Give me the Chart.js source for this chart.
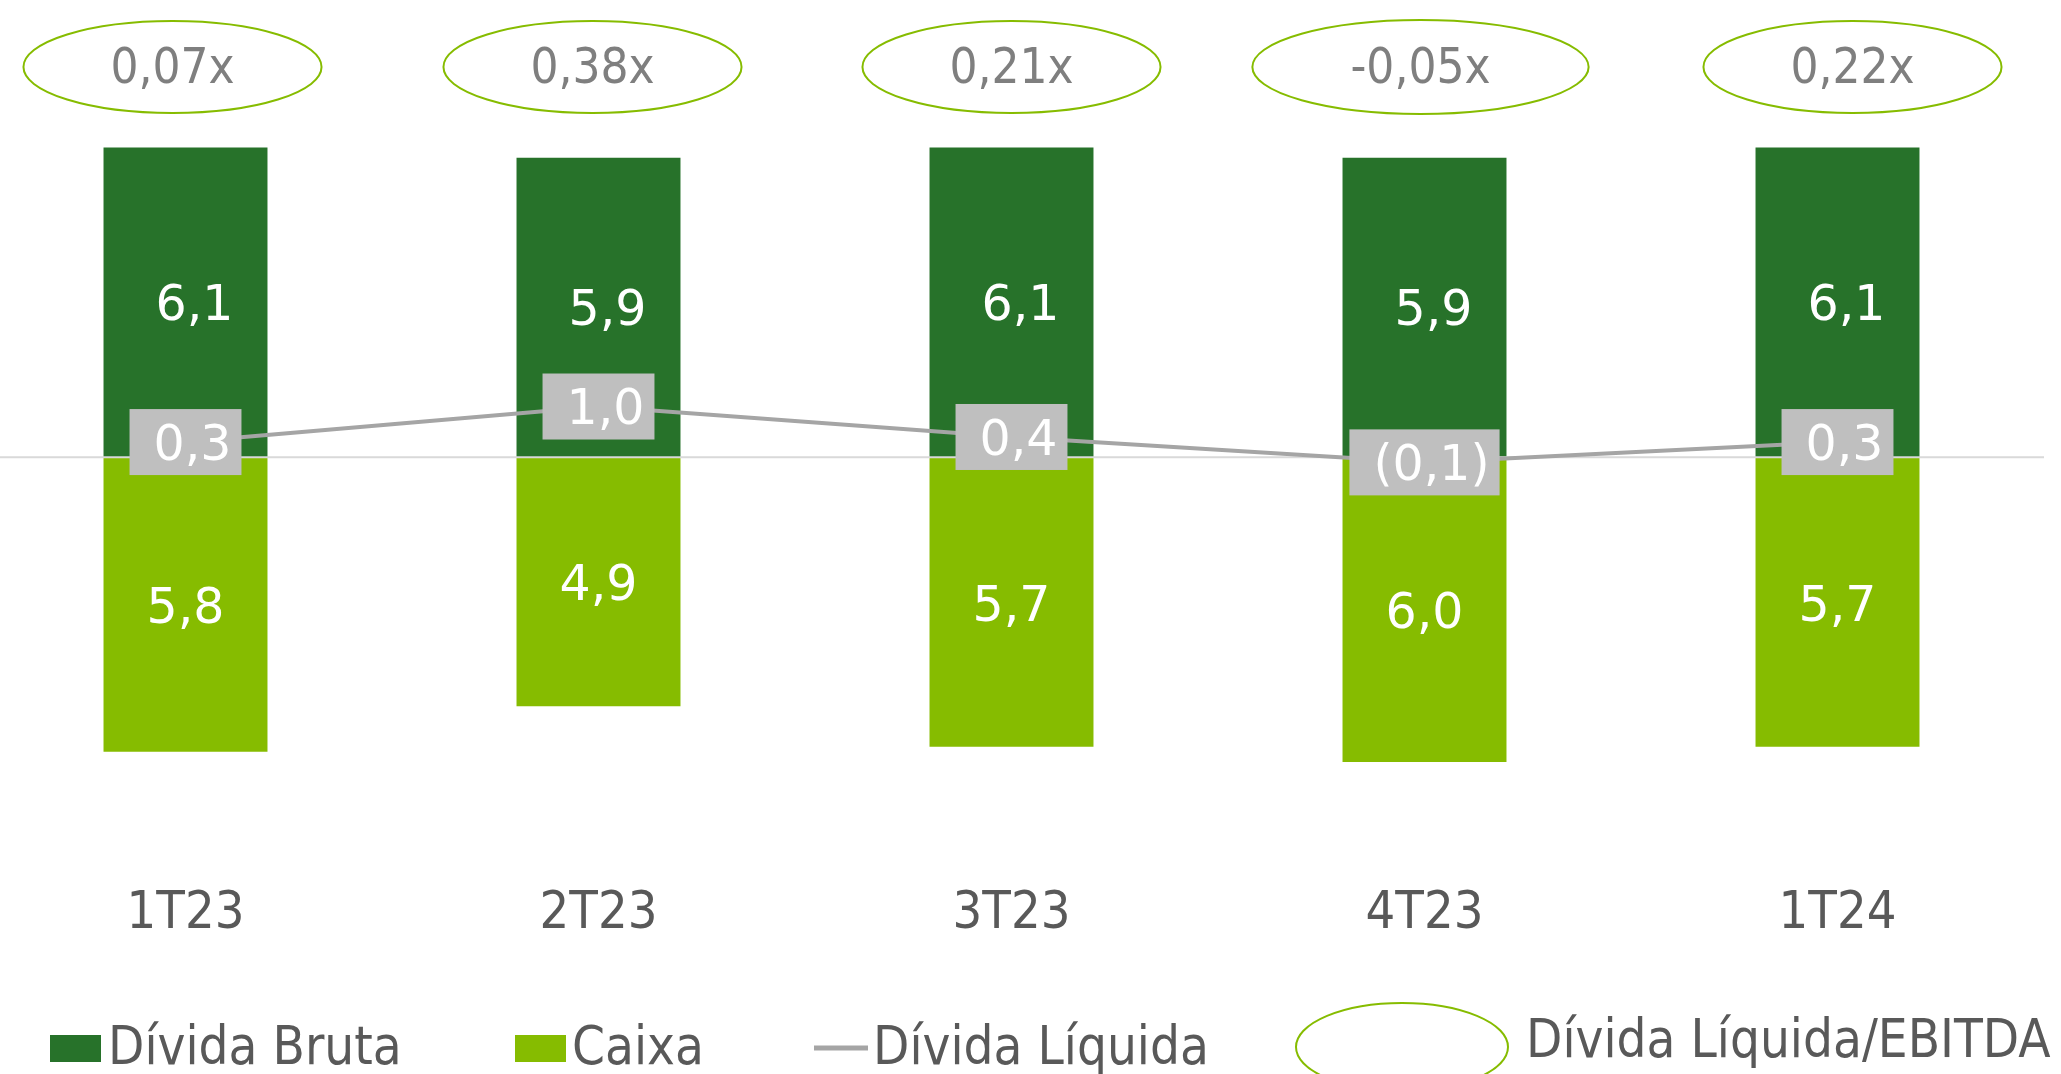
<!DOCTYPE html>
<html>
<head>
<meta charset="utf-8">
<script src="https://cdn.jsdelivr.net/npm/chart.js@4.4.1/dist/chart.umd.min.js"></script>
<style>
  html, body { margin: 0; padding: 0; background: #fff; overflow: hidden; }
  #wrap { position: absolute; left: -21px; top: 0; width: 2082px; height: 1074px; }
</style>
</head>
<body>
<div id="wrap"><canvas id="chart" width="2082" height="1074"></canvas></div>
<script>
// data (R$ bi)
var categories = ['1T23', '2T23', '3T23', '4T23', '1T24'];
var dividaBruta = [6.1, 5.9, 6.1, 5.9, 6.1];
var caixa = [5.8, 4.9, 5.7, 6.0, 5.7];
var dividaLiquida = [0.3, 1.0, 0.4, -0.1, 0.3];
var dlEbitda = [0.07, 0.38, 0.21, -0.05, 0.22];

var SHIFT = 21; // canvas sits 21px left of the page
var COND = '"DejaVu Sans Condensed", "DejaVu Sans", Verdana, sans-serif';
var NORM = '"DejaVu Sans", Verdana, sans-serif';
var DARK = '#27722a';
var LIGHT = '#86bc00';
var GRAY = '#a5a5a5';
var ELLIPSE_DX = [-13, -6, 0, -4, 15]; // the ovals are not quite centred on the bars

function fmt(v) {
  var s = Math.abs(v).toFixed(1).replace('.', ',');
  return v < 0 ? '(' + s + ')' : s;
}
function fmtX(v) {
  return v.toFixed(2).replace('.', ',') + 'x';
}

var labelsPlugin = {
  id: 'labels',
  afterDatasetDraw: function(chart, args) {
    var ctx = chart.ctx;
    // zero line goes over the bars, under the net debt line
    if (args.index === 1) {
      var y0 = chart.scales.y.getPixelForValue(0);
      ctx.save();
      ctx.strokeStyle = '#d9d9d9';
      ctx.lineWidth = 2;
      ctx.beginPath();
      ctx.moveTo(chart.chartArea.left, y0);
      ctx.lineTo(chart.chartArea.right, y0);
      ctx.stroke();
      ctx.restore();
    }
  },
  afterDatasetsDraw: function(chart) {
    var ctx = chart.ctx;
    ctx.save();
    ctx.font = '49px ' + NORM;
    ctx.textAlign = 'center';
    ctx.textBaseline = 'middle';
    ctx.fillStyle = '#ffffff';

    // bar values
    chart.getDatasetMeta(0).data.forEach(function(el, i) {
      ctx.fillText(fmt(dividaBruta[i]), el.x + 9, (el.y + el.base) / 2 + 5);
    });
    chart.getDatasetMeta(1).data.forEach(function(el, i) {
      ctx.fillText(fmt(caixa[i]), el.x, (el.y + el.base) / 2 + 6);
    });

    // net debt boxes
    chart.getDatasetMeta(2).data.forEach(function(el, i) {
      var t = fmt(dividaLiquida[i]);
      var w = ctx.measureText(t).width + 34;
      var h = 66;
      ctx.fillStyle = '#bfbfbf';
      ctx.fillRect(el.x - w / 2, el.y - h / 2, w, h);
      ctx.fillStyle = '#ffffff';
      ctx.fillText(t, el.x + 7, el.y + 5);
    });

    // net debt / EBITDA ovals
    ctx.font = '49px ' + COND;
    chart.getDatasetMeta(0).data.forEach(function(el, i) {
      var t = fmtX(dlEbitda[i]);
      var tw = ctx.measureText(t).width;
      var cx = el.x + ELLIPSE_DX[i];
      var rx = tw * 1.2;
      var ry = dlEbitda[i] < 0 ? 47 : 46;
      var cy = 67;
      ctx.strokeStyle = LIGHT;
      ctx.lineWidth = 2;
      ctx.beginPath();
      ctx.ellipse(cx, cy, rx, ry, 0, 0, Math.PI * 2);
      ctx.stroke();
      ctx.fillStyle = '#7f7f7f';
      ctx.fillText(t, cx, cy + 3);
    });
    ctx.restore();
  },
  afterDraw: function(chart) {
    // legend
    var ctx = chart.ctx;
    var ds = chart.data.datasets;
    ctx.save();
    ctx.font = '52.5px ' + COND;
    ctx.textAlign = 'left';
    ctx.textBaseline = 'middle';
    ctx.fillStyle = ds[0].backgroundColor;
    ctx.fillRect(50 + SHIFT, 1035, 51, 27);
    ctx.fillStyle = ds[1].backgroundColor;
    ctx.fillRect(515 + SHIFT, 1035, 51, 27);
    ctx.strokeStyle = ds[2].borderColor;
    ctx.lineWidth = 5;
    ctx.beginPath();
    ctx.moveTo(814 + SHIFT, 1048);
    ctx.lineTo(868 + SHIFT, 1048);
    ctx.stroke();
    ctx.strokeStyle = LIGHT;
    ctx.lineWidth = 2;
    ctx.beginPath();
    ctx.ellipse(1402 + SHIFT, 1047, 106, 44, 0, 0, Math.PI * 2);
    ctx.stroke();

    ctx.fillStyle = '#595959';
    ctx.fillText(ds[0].label, 108 + SHIFT, 1050);
    ctx.fillText(ds[1].label, 572 + SHIFT, 1050);
    ctx.fillText(ds[2].label, 873 + SHIFT, 1050);
    ctx.fillText('Dívida Líquida/EBITDA', 1526 + SHIFT, 1043);
    ctx.restore();
  }
};

var ctx = document.getElementById('chart').getContext('2d');
var chart = new Chart(ctx, {
  type: 'bar',
  data: {
    labels: categories,
    datasets: [
      {
        label: 'Dívida Bruta',
        data: dividaBruta,
        backgroundColor: DARK,
        stack: 's',
        order: 2
      },
      {
        label: 'Caixa',
        data: caixa.map(function(v) { return -v; }),
        backgroundColor: LIGHT,
        stack: 's',
        order: 1
      },
      {
        type: 'line',
        label: 'Dívida Líquida',
        data: dividaLiquida,
        borderColor: GRAY,
        borderWidth: 4,
        pointRadius: 0,
        tension: 0,
        fill: false,
        order: 0
      }
    ]
  },
  options: {
    responsive: false,
    animation: false,
    devicePixelRatio: 1,
    layout: { padding: { left: 0, right: 17, top: 51, bottom: 108 } },
    datasets: {
      bar: { barPercentage: 0.397, categoryPercentage: 1 }
    },
    scales: {
      x: {
        stacked: true,
        grid: { display: false, drawTicks: false },
        border: { display: false },
        ticks: {
          color: '#595959',
          font: { family: COND, size: 52 },
          padding: 20,
          maxRotation: 0,
          autoSkip: false
        }
      },
      y: {
        stacked: true,
        display: false,
        min: -8,
        max: 8
      }
    },
    plugins: {
      legend: { display: false },
      tooltip: { enabled: false }
    }
  },
  plugins: [labelsPlugin]
});
</script>
</body>
</html>
